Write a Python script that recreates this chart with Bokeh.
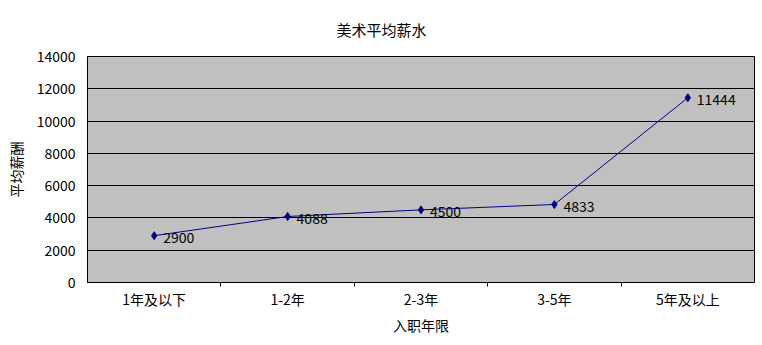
from bokeh.plotting import figure
from bokeh.models import ColumnDataSource, FixedTicker, Range1d
from bokeh.embed import file_html
from bokeh.resources import INLINE

title_text = "美术平均薪水"
categories = ["1年及以下", "1-2年", "2-3年", "3-5年", "5年及以上"]
salaries = [2900, 4088, 4500, 4833, 11444]
y_ticks = [0, 2000, 4000, 6000, 8000, 10000, 12000, 14000]

xs = [i + 0.5 for i in range(len(categories))]
src = ColumnDataSource(dict(x=xs, y=salaries, lab=[str(v) for v in salaries]))

CJK = "Noto Sans CJK SC"

p = figure(width=762, height=345, output_backend="svg", toolbar_location=None,
           x_range=Range1d(0, len(categories)), y_range=Range1d(0, 14000),
           min_border_left=87, min_border_right=8, min_border_top=56, min_border_bottom=63)
p.background_fill_color = "#c0c0c0"
p.border_fill_color = "white"
p.outline_line_color = "black"
p.outline_line_width = 1

p.title.text = title_text
p.title.align = "left"
p.title.offset = 249
p.title.vertical_align = "top"
p.title.standoff = 30
p.title.text_font = CJK
p.title.text_font_size = "15px"
p.title.text_font_style = "normal"
p.title.text_color = "black"

p.xgrid.visible = False
p.ygrid.grid_line_color = "black"
p.ygrid.grid_line_alpha = 1
p.ygrid.grid_line_width = 1

xa = p.xaxis[0]
xa.ticker = FixedTicker(ticks=xs, minor_ticks=[1, 2, 3, 4])
xa.major_label_overrides = {x: c for x, c in zip(xs, categories)}
xa.major_tick_out = 0
xa.major_tick_in = 0
xa.minor_tick_out = 4
xa.minor_tick_in = 0
xa.minor_tick_line_color = "black"
xa.axis_line_color = "black"
xa.major_label_text_font = CJK
xa.major_label_text_font_size = "14px"
xa.major_label_text_color = "black"
xa.major_label_standoff = 2
xa.axis_label = "入职年限"
xa.axis_label_text_font = CJK
xa.axis_label_text_font_size = "14px"
xa.axis_label_text_font_style = "normal"
xa.axis_label_text_color = "black"
xa.axis_label_standoff = 3

ya = p.yaxis[0]
ya.ticker = FixedTicker(ticks=y_ticks, minor_ticks=[])
ya.major_tick_out = 0
ya.major_tick_in = 0
ya.axis_line_color = "black"
ya.major_label_text_font = CJK
ya.major_label_text_font_size = "14px"
ya.major_label_text_color = "black"
ya.major_label_standoff = 12
ya.axis_label = "平均薪酬"
ya.axis_label_text_font = CJK
ya.axis_label_text_font_size = "14px"
ya.axis_label_text_font_style = "normal"
ya.axis_label_text_color = "black"
ya.axis_label_standoff = 8

p.line("x", "y", source=src, line_color="#000080", line_width=1)
p.scatter("x", "y", source=src, marker="diamond", size=8, fill_color="#000080", line_color="#000080")
p.text("x", "y", text="lab", source=src, x_offset=9, y_offset=2, text_align="left",
       text_baseline="middle", text_font_size="14px", text_color="black",
       text_font={"value": CJK})

open("out.html", "w").write(file_html(p, INLINE))
